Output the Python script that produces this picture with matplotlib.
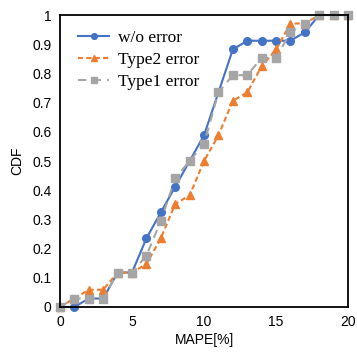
import matplotlib
matplotlib.use("Agg")
import matplotlib.pyplot as plt
import numpy as np

# MAPE [%] and CDF values
mape = list(range(0, 21))
cdf_no_err = [0, 0, 0.029, 0.029, 0.118, 0.118, 0.235, 0.324, 0.412, 0.5, 0.588,
              0.735, 0.882, 0.912, 0.912, 0.912, 0.912, 0.941, 1, 1, 1]
cdf_type2 = [0, 0.029, 0.059, 0.059, 0.118, 0.118, 0.147, 0.235, 0.353, 0.382, 0.5,
             0.588, 0.706, 0.735, 0.824, 0.882, 0.971, 0.971, 1, 1, 1]
cdf_type1 = [0, 0.029, 0.029, 0.029, 0.118, 0.118, 0.176, 0.294, 0.441, 0.5, 0.559,
             0.735, 0.794, 0.794, 0.853, 0.853, 0.941, 0.971, 1, 1, 1]

labels = ["w/o error", "Type2 error", "Type1 error"]

plt.rcParams['font.family'] = ['Liberation Sans', 'DejaVu Sans']

fig = plt.figure(figsize=(3.57, 3.58), dpi=100)
ax = fig.add_axes([0.168, 0.1425, 0.807, 0.8155])

ax.plot(mape, cdf_no_err, '-o', color='#4472C4', lw=1.5, ms=5.5, label=labels[0],
        clip_on=False)
ax.plot(mape, cdf_type2, '--^', color='#ED7D31', lw=1.5, ms=5.5, dashes=(2.5, 1.5),
        label=labels[1], clip_on=False)
ax.plot(mape, cdf_type1, '--s', color='#A5A5A5', lw=1.5, ms=5.5, dashes=(4, 3),
        label=labels[2], clip_on=False)

ax.set_xlim(0, 20)
ax.set_ylim(0, 1)
ax.set_xticks([0, 5, 10, 15, 20])
ax.set_yticks(np.arange(0, 1.01, 0.1))
ax.set_yticklabels(['0', '0.1', '0.2', '0.3', '0.4', '0.5', '0.6', '0.7', '0.8', '0.9', '1'])
ax.tick_params(length=0, labelsize=10, pad=6)
for s in ax.spines.values():
    s.set_color('black')
    s.set_linewidth(1.3)

ax.set_xlabel('MAPE[%]', fontsize=10, labelpad=3)
ax.set_ylabel('CDF', fontsize=10, labelpad=6)

ax.legend(loc='upper left', frameon=False, prop={'family': 'Liberation Serif', 'size': 12.5},
          handlelength=1.8, handletextpad=0.5, labelspacing=0.33, markerscale=0.75,
          borderaxespad=0.3, bbox_to_anchor=(0.02, 0.99))

fig.savefig('out.png', dpi=100)
